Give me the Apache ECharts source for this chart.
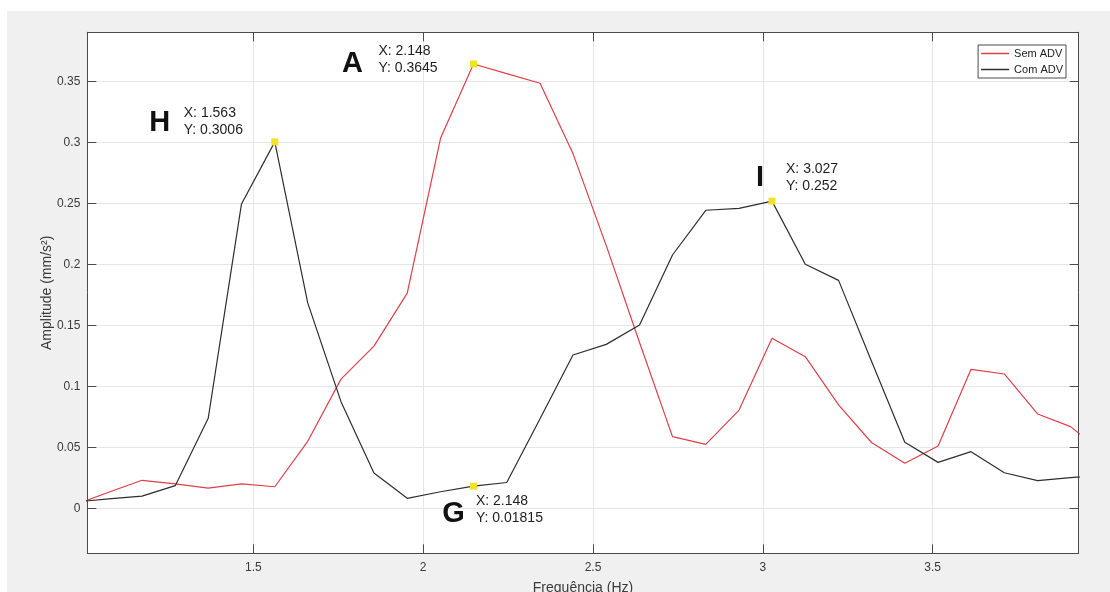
<!DOCTYPE html>
<html>
<head>
<meta charset="utf-8">
<script src="https://cdn.jsdelivr.net/npm/echarts@6/dist/echarts.min.js"></script>
<style>
  html, body { margin: 0; padding: 0; background: #ffffff; width: 1110px; height: 592px; overflow: hidden; }
  #chart { position: absolute; left: 7px; top: 11px; width: 1103px; height: 581px; }
</style>
</head>
<body>
<div id="chart"></div>
<script>
// ---- data ----
const freqs = [0.977, 1.074, 1.172, 1.270, 1.367, 1.465, 1.563, 1.660, 1.758, 1.855, 1.953, 2.051, 2.148, 2.246, 2.344, 2.441,
               2.539, 2.637, 2.734, 2.832, 2.930, 3.027, 3.125, 3.223, 3.320, 3.418, 3.516, 3.613, 3.711, 3.809, 3.906, 4.004];
const semADV = [0.0033, 0.0132, 0.0230, 0.0200, 0.0165, 0.0200, 0.0177, 0.0550, 0.1060, 0.1330, 0.1765, 0.3035, 0.3645, 0.3566, 0.3487, 0.2910,
                0.2155, 0.1360, 0.0588, 0.0525, 0.0806, 0.1395, 0.1244, 0.0848, 0.0540, 0.0369, 0.0511, 0.1140, 0.1102, 0.0774, 0.0670, 0.0450];
const comADV = [0.0052, 0.0078, 0.0100, 0.0186, 0.0738, 0.2497, 0.3006, 0.1685, 0.0875, 0.0290, 0.0082, 0.0136, 0.01815, 0.0212, 0.0735, 0.1258,
                0.1345, 0.1504, 0.2078, 0.2445, 0.2461, 0.2520, 0.2002, 0.1870, 0.1207, 0.0542, 0.0377, 0.0465, 0.0292, 0.0227, 0.0252, 0.0275];
const seriesNames = ['Sem ADV', 'Com ADV'];
const xTicks = [1.5, 2, 2.5, 3, 3.5];
const yTicks = [0, 0.05, 0.1, 0.15, 0.2, 0.25, 0.3, 0.35];
const xRange = [1.011, 3.93];
const yRange = [-0.0369, 0.3905];
const tipLetters = ['A', 'H', 'I', 'G'];
const tipX = [2.148, 1.563, 3.027, 2.148];
const tipY = [0.3645, 0.3006, 0.252, 0.01815];
const xName = 'Frequência (Hz)';
const yName = 'Amplitude (mm/s²)';

// ---- style / placement of datatip texts (pixels relative to the point) ----
const tipTextOffset = { A: [-95, -4.5], H: [-91, -20.5], I: [14, -23.5], G: [2.5, 23.5] };
const tipLetterOffset = { A: [-121, 0], H: [-115, -19], I: [-12, -23.5], G: [-20, 28] };

const pair = (xs, ys) => xs.map((x, i) => [x, ys[i]]);

const axisColor = '#4a4a4a';
const gridColor = '#e6e6e6';
const labelColor = '#3a3a3a';
const fontFam = '"Liberation Sans", Arial, sans-serif';
const redColor = '#de3f48';
const blackColor = '#2e2e2e';

const chart = echarts.init(document.getElementById('chart'));

function xAxisDef(pos, main) {
  return {
    type: 'value', position: pos, min: xRange[0], max: xRange[1],
    axisLine: { show: true, onZero: false, lineStyle: { color: axisColor, width: 1 } },
    axisTick: { show: true, inside: true, length: 9, customValues: xTicks, lineStyle: { color: axisColor } },
    axisLabel: { show: main, customValues: xTicks, color: labelColor, fontSize: 12, fontFamily: fontFam, margin: 8 },
    splitLine: { show: main, lineStyle: { color: gridColor, width: 1 } },
    name: main ? xName : '', nameLocation: 'middle', nameGap: 28, nameMoveOverlap: false,
    nameTextStyle: { color: labelColor, fontSize: 14, fontFamily: fontFam }
  };
}
function yAxisDef(pos, main) {
  return {
    type: 'value', position: pos, min: yRange[0], max: yRange[1],
    axisLine: { show: true, onZero: false, lineStyle: { color: axisColor, width: 1 } },
    axisTick: { show: true, inside: true, length: 9, customValues: yTicks, lineStyle: { color: axisColor } },
    axisLabel: { show: main, customValues: yTicks, color: labelColor, fontSize: 12, fontFamily: fontFam, margin: 7 },
    splitLine: { show: main, lineStyle: { color: gridColor, width: 1 } },
    name: main ? yName : '', nameLocation: 'middle', nameGap: 33, nameRotate: 90, nameMoveOverlap: false,
    nameTextStyle: { color: labelColor, fontSize: 14, fontFamily: fontFam }
  };
}

const tipTextData = tipLetters.map((L, i) => ({
  value: [tipX[i], tipY[i]],
  label: { offset: tipTextOffset[L] },
  text: 'X: ' + tipX[i] + '\nY: ' + tipY[i]
}));
const tipLetterData = tipLetters.map((L, i) => ({
  value: [tipX[i], tipY[i]],
  label: { offset: tipLetterOffset[L] },
  text: L
}));

chart.setOption({
  backgroundColor: '#f0f0f0',
  animation: false,
  textStyle: { fontFamily: fontFam },
  grid: { left: 80.3, right: 31.3, top: 21.3, bottom: 38.7, show: true, backgroundColor: '#ffffff', borderWidth: 0,
          outerBoundsMode: 'none', containLabel: false },
  legend: {
    orient: 'vertical', right: 44, top: 34,
    data: seriesNames.map((n, i) => ({ name: n, icon: 'rect', itemStyle: { color: i === 0 ? redColor : blackColor } })),
    backgroundColor: '#ffffff', borderColor: '#4a4a4a', borderWidth: 1, borderRadius: 0,
    padding: [3, 3, 3, 3], itemGap: 5, itemWidth: 28, itemHeight: 1.5,
    textStyle: { color: '#222', fontSize: 11, fontFamily: fontFam }
  },
  xAxis: [xAxisDef('bottom', true), xAxisDef('top', false)],
  yAxis: [yAxisDef('left', true), yAxisDef('right', false)],
  series: [
    { name: seriesNames[0], type: 'line', data: pair(freqs, semADV), symbol: 'none', clip: true,
      lineStyle: { color: redColor, width: 1.2 }, itemStyle: { color: redColor }, z: 3 },
    { name: seriesNames[1], type: 'line', data: pair(freqs, comADV), symbol: 'none', clip: true,
      lineStyle: { color: blackColor, width: 1.2 }, itemStyle: { color: blackColor }, z: 3 },
    { name: 'tipText', type: 'scatter', data: tipTextData, symbol: 'rect', symbolSize: 7, z: 5,
      itemStyle: { color: '#f0e224', opacity: 1 },
      label: { show: true, position: 'inside', align: 'left', verticalAlign: 'middle',
        formatter: p => p.data.text, color: '#1e1e1e', fontSize: 14, lineHeight: 17, fontFamily: fontFam } },
    { name: 'tipLetter', type: 'scatter', data: tipLetterData, symbolSize: 0, z: 5,
      itemStyle: { opacity: 1 },
      label: { show: true, position: 'inside', align: 'center', verticalAlign: 'middle',
        formatter: p => p.data.text, color: '#111111', fontSize: 29, fontWeight: 'bold', fontFamily: fontFam } }
  ]
});
</script>
</body>
</html>
